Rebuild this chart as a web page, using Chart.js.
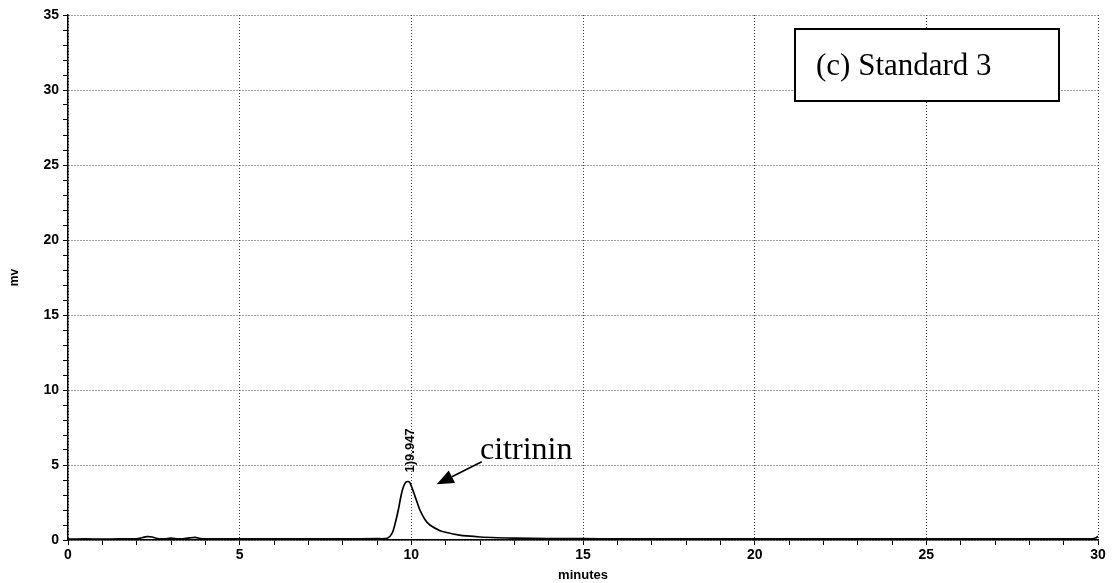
<!DOCTYPE html>
<html>
<head>
<meta charset="utf-8">
<script src="https://cdn.jsdelivr.net/npm/chart.js@4/dist/chart.umd.min.js"></script>
<style>
  html, body { margin: 0; padding: 0; background: #fff; }
  #wrap { width: 1112px; height: 583px; }
</style>
</head>
<body>
<div id="wrap"><canvas id="myChart" width="1112" height="583"></canvas></div>
<script>
// 크로마토그램 데이터 (분, mV)
const minutes = [0, 0.5, 1, 1.5, 2, 2.15, 2.3, 2.45, 2.6, 2.8, 3.0, 3.2, 3.4, 3.55, 3.7, 3.85, 4.0, 4.5, 5, 6, 7, 8, 9, 9.3, 9.45, 9.55, 9.62, 9.7, 9.77, 9.84, 9.9, 9.95, 10.0, 10.08, 10.17, 10.25, 10.4, 10.54, 10.84, 11.03, 11.4, 11.61, 12.0, 12.5, 13, 14, 15, 16, 17, 18, 20, 22, 24, 25, 26, 27, 28, 29, 29.8, 29.95, 30];
const signal  = [0.06, 0.07, 0.06, 0.07, 0.08, 0.15, 0.22, 0.2, 0.1, 0.08, 0.12, 0.08, 0.09, 0.14, 0.18, 0.1, 0.07, 0.08, 0.08, 0.07, 0.08, 0.08, 0.09, 0.12, 0.5, 1.3, 2.0, 2.95, 3.55, 3.85, 3.9, 3.85, 3.6, 3.1, 2.5, 2.0, 1.35, 1.0, 0.62, 0.5, 0.33, 0.27, 0.2, 0.15, 0.12, 0.1, 0.09, 0.08, 0.08, 0.07, 0.07, 0.08, 0.07, 0.07, 0.08, 0.07, 0.08, 0.07, 0.08, 0.15, 0.25];

// 피크 정보
const peakTime = 9.947;
const peakLabel = "1)9.947";
const peakHeight = 3.9;

// 축 범위와 눈금
const xMin = 0, xMax = 30;
const yMin = 0, yMax = 35;
const majorStep = 5;

// 주석 (분, mV 좌표)
const noteText = "citrinin";
const noteTextAt = [12.0, 5.4];
const arrowFrom = [12.05, 5.22];
const arrowTo = [10.74, 3.71];
const boxTitle = "(c) Standard 3";

const points = minutes.map((t, i) => ({ x: t, y: signal[i] }));

const isMajor = (v) => Math.abs(v % majorStep) < 1e-6;

// 피크 라벨, 화살표, 제목 상자를 그리는 플러그인
const overlay = {
  id: "overlay",
  afterDatasetsDraw(chart) {
    const { ctx, chartArea, scales: { x, y } } = chart;
    ctx.save();

    // 피크 라벨 (세로)
    ctx.font = "bold 13px 'Liberation Sans', Arial, sans-serif";
    ctx.fillStyle = "#000";
    ctx.translate(x.getPixelForValue(peakTime) + 1, y.getPixelForValue(peakHeight) - 9);
    ctx.rotate(-Math.PI / 2);
    ctx.textAlign = "left";
    ctx.textBaseline = "middle";
    ctx.fillText(peakLabel, 0, 0);
    ctx.setTransform(1, 0, 0, 1, 0, 0);

    // citrinin 글자
    ctx.font = "32px 'Liberation Serif', 'Times New Roman', serif";
    ctx.textAlign = "left";
    ctx.textBaseline = "alphabetic";
    ctx.fillText(noteText, x.getPixelForValue(noteTextAt[0]), y.getPixelForValue(noteTextAt[1]));

    // 화살표
    const x1 = x.getPixelForValue(arrowFrom[0]), y1 = y.getPixelForValue(arrowFrom[1]);
    const x2 = x.getPixelForValue(arrowTo[0]), y2 = y.getPixelForValue(arrowTo[1]);
    const ang = Math.atan2(y2 - y1, x2 - x1);
    const headLen = 17, headW = 7;
    const bx = x2 - headLen * Math.cos(ang), by = y2 - headLen * Math.sin(ang);
    ctx.strokeStyle = "#000";
    ctx.lineWidth = 1.6;
    ctx.beginPath();
    ctx.moveTo(x1, y1);
    ctx.lineTo(bx, by);
    ctx.stroke();
    ctx.beginPath();
    ctx.moveTo(x2, y2);
    ctx.lineTo(bx + headW * Math.sin(ang), by - headW * Math.cos(ang));
    ctx.lineTo(bx - headW * Math.sin(ang), by + headW * Math.cos(ang));
    ctx.closePath();
    ctx.fill();

    // 오른쪽 위 제목 상자
    const bxL = chartArea.right - 303, bxT = chartArea.top + 14;
    ctx.fillStyle = "#fff";
    ctx.fillRect(bxL, bxT, 264, 72);
    ctx.lineWidth = 2;
    ctx.strokeRect(bxL, bxT, 264, 72);
    ctx.fillStyle = "#000";
    ctx.font = "31px 'Liberation Serif', 'Times New Roman', serif";
    ctx.fillText(boxTitle, bxL + 21, bxT + 46);

    ctx.restore();
  }
};

const tickFont = { family: "'Liberation Sans', Arial, sans-serif", size: 14, weight: "bold" };

const myChart = new Chart(document.getElementById("myChart"), {
  type: "scatter",
  data: {
    datasets: [{
      data: points,
      showLine: true,
      borderColor: "#000",
      borderWidth: 1.7,
      pointRadius: 0,
      tension: 0.25,
      fill: false
    }]
  },
  options: {
    responsive: false,
    animation: false,
    layout: { padding: { left: 0, top: 15, right: 14, bottom: 0 } },
    plugins: { legend: { display: false }, tooltip: { enabled: false } },
    scales: {
      x: {
        type: "linear",
        min: xMin,
        max: xMax,
        afterFit: (s) => { s.height = 43; },
        ticks: {
          stepSize: 1,
          autoSkip: false,
          maxRotation: 0,
          color: "#000",
          font: tickFont,
          padding: 2,
          callback: (v) => (isMajor(v) ? v : "")
        },
        grid: {
          color: (c) => (isMajor(c.tick.value) ? "#444" : "rgba(0,0,0,0)"),
          tickColor: "#000",
          tickLength: 5,
          tickWidth: 1
        },
        border: { display: true, color: "#000", width: 1.5, dash: [1, 2] },
        title: {
          display: true,
          text: "minutes",
          color: "#000",
          font: { family: "'Liberation Sans', Arial, sans-serif", size: 13, weight: "bold" },
          padding: { top: 0, bottom: 0 }
        }
      },
      y: {
        min: yMin,
        max: yMax,
        afterFit: (s) => { s.width = 68; },
        ticks: {
          stepSize: 1,
          autoSkip: false,
          color: "#000",
          font: tickFont,
          padding: 4,
          callback: (v) => (isMajor(v) ? v : "")
        },
        grid: {
          color: (c) => (isMajor(c.tick.value) ? "#444" : "rgba(0,0,0,0)"),
          tickColor: "#000",
          tickLength: 5,
          tickWidth: 1
        },
        border: { display: true, color: "#000", width: 1.5, dash: [1, 2] },
        title: {
          display: true,
          text: "mv",
          color: "#000",
          font: { family: "'Liberation Sans', Arial, sans-serif", size: 12, weight: "bold" },
          padding: { top: 7, bottom: 0 }
        }
      }
    }
  },
  plugins: [overlay]
});
</script>
</body>
</html>
